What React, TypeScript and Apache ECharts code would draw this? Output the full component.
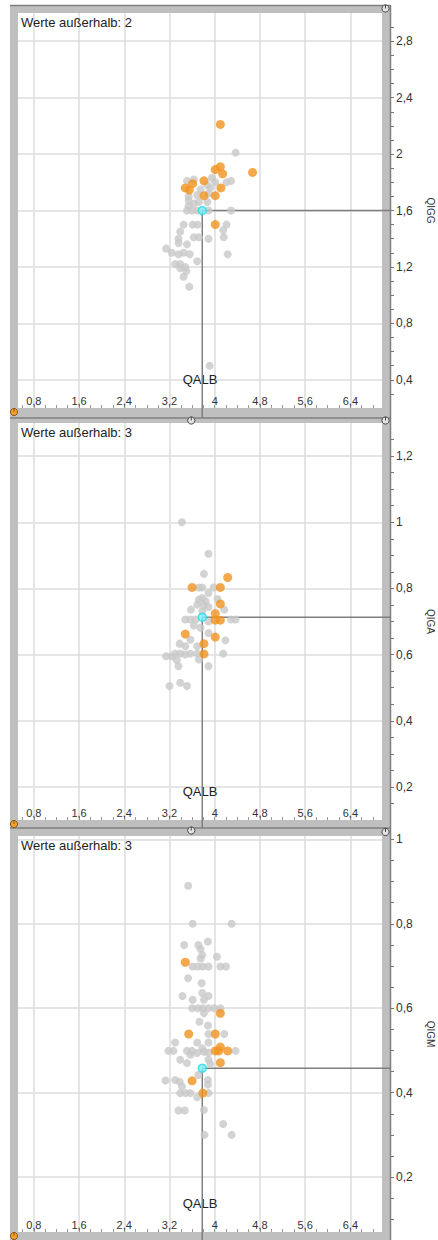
import React, { useEffect, useRef } from 'react';
import * as echarts from 'echarts';

// ---------- data ----------
const X_MIN = 0.52;
const X_MAX = 6.96;
const xLabelTicks = [0.8, 1.6, 2.4, 3.2, 4, 4.8, 5.6, 6.4];
const xMinorTicks = [0.6, 0.8, 1.0, 1.2, 1.4, 1.6, 1.8, 2.0, 2.2, 2.4, 2.6, 2.8, 3.0, 3.2, 3.4, 3.6, 3.8, 4.0, 4.2, 4.4, 4.6, 4.8, 5.0, 5.2, 5.4, 5.6, 5.8, 6.0, 6.2, 6.4, 6.6, 6.8];

const yNames = ['QIGG', 'QIGA', 'QIGM'];
const xName = 'QALB';
const outsideTexts = ['Werte außerhalb: 2', 'Werte außerhalb: 3', 'Werte außerhalb: 3'];

const yMin = [0.2, 0.1, 0.07];
const yMax = [3.0, 1.3, 1.008];
const yLabelTicks1 = [0.4, 0.8, 1.2, 1.6, 2, 2.4, 2.8];
const yLabelTicks2 = [0.2, 0.4, 0.6, 0.8, 1, 1.2];
const yLabelTicks3 = [0.2, 0.4, 0.6, 0.8, 1];
const yMinorTicks1 = [0.3, 0.4, 0.5, 0.6, 0.7, 0.8, 0.9, 1.0, 1.1, 1.2, 1.3, 1.4, 1.5, 1.6, 1.7, 1.8, 1.9, 2.0, 2.1, 2.2, 2.3, 2.4, 2.5, 2.6, 2.7, 2.8, 2.9];
const yMinorTicks2 = [0.15, 0.2, 0.25, 0.3, 0.35, 0.4, 0.45, 0.5, 0.55, 0.6, 0.65, 0.7, 0.75, 0.8, 0.85, 0.9, 0.95, 1.0, 1.05, 1.1, 1.15, 1.2, 1.25];
const yMinorTicks3 = [0.1, 0.15, 0.2, 0.25, 0.3, 0.35, 0.4, 0.45, 0.5, 0.55, 0.6, 0.65, 0.7, 0.75, 0.8, 0.85, 0.9, 0.95, 1.0];

// QALB / QIGG
const grayQigg = [
  [4.37, 2.01], [4.29, 1.81], [4.21, 1.80], [3.95, 1.83], [3.51, 1.81], [3.63, 1.82], [3.87, 1.78], [4.01, 1.80],
  [3.92, 1.76], [3.75, 1.75], [3.54, 1.70], [3.69, 1.71], [3.89, 1.72], [3.54, 1.67], [3.63, 1.65], [3.72, 1.66],
  [3.87, 1.66], [3.54, 1.63], [3.51, 1.60], [3.60, 1.60], [3.69, 1.60], [3.89, 1.60], [4.29, 1.60], [3.45, 1.50],
  [3.61, 1.50], [3.70, 1.50], [4.21, 1.50], [3.39, 1.45], [3.63, 1.41], [3.72, 1.41], [3.36, 1.40], [3.89, 1.40],
  [4.16, 1.41], [4.15, 1.46], [3.36, 1.37], [3.51, 1.36], [3.14, 1.33], [3.24, 1.30], [3.36, 1.29], [3.45, 1.30],
  [3.56, 1.29], [3.69, 1.24], [4.23, 1.29], [3.30, 1.22], [3.39, 1.22], [3.48, 1.20], [3.39, 1.19], [3.50, 1.17],
  [3.45, 1.13], [3.55, 1.06], [3.91, 0.50],
];
const orangeQigg = [
  [4.10, 2.21], [4.67, 1.87], [4.10, 1.91], [4.01, 1.89], [4.14, 1.86], [3.61, 1.79], [3.81, 1.81], [3.48, 1.76],
  [3.55, 1.745], [4.11, 1.76], [3.81, 1.705], [4.01, 1.705], [4.01, 1.50],
];
const cyanQigg = [3.78, 1.6];

// QALB / QIGA
const grayQiga = [
  [3.42, 1.00], [3.89, 0.905], [3.81, 0.844], [3.78, 0.803], [3.72, 0.803], [3.98, 0.803], [3.89, 0.786], [3.78, 0.771],
  [3.72, 0.766], [3.84, 0.761], [4.05, 0.768], [3.69, 0.751], [3.81, 0.748], [3.89, 0.744], [3.58, 0.736], [4.17, 0.736],
  [3.78, 0.731], [3.48, 0.706], [3.57, 0.706], [3.66, 0.706], [3.89, 0.70], [4.29, 0.706], [4.37, 0.706], [3.63, 0.688],
  [3.75, 0.681], [3.89, 0.665], [3.57, 0.645], [4.19, 0.643], [3.38, 0.633], [3.48, 0.625], [3.69, 0.625], [3.30, 0.603],
  [3.39, 0.603], [3.48, 0.60], [3.57, 0.603], [3.69, 0.603], [3.14, 0.595], [3.24, 0.595], [4.15, 0.603], [3.33, 0.583],
  [3.72, 0.585], [3.36, 0.565], [3.89, 0.565], [3.20, 0.505], [3.39, 0.515], [3.51, 0.505],
];
const orangeQiga = [
  [4.23, 0.833], [3.60, 0.803], [4.10, 0.803], [4.10, 0.753], [4.01, 0.724], [4.01, 0.704], [4.10, 0.704], [3.48, 0.662],
  [4.01, 0.653], [3.81, 0.633], [3.81, 0.602],
];
const cyanQiga = [3.78, 0.713];

// QALB / QIGM
const grayQigm = [
  [3.53, 0.89], [3.61, 0.80], [4.30, 0.80], [3.46, 0.75], [3.71, 0.75], [3.88, 0.758], [3.75, 0.74], [3.78, 0.726],
  [4.04, 0.722], [3.75, 0.718], [3.61, 0.699], [3.70, 0.699], [3.79, 0.699], [3.89, 0.699], [4.10, 0.699], [4.20, 0.699],
  [3.53, 0.671], [3.77, 0.659], [3.43, 0.629], [3.78, 0.636], [3.89, 0.629], [3.61, 0.62], [3.81, 0.62], [3.60, 0.60],
  [3.70, 0.60], [3.79, 0.60], [3.89, 0.60], [3.99, 0.60], [4.10, 0.60], [3.81, 0.588], [3.73, 0.568], [3.88, 0.559],
  [3.89, 0.539], [4.17, 0.539], [3.30, 0.519], [3.69, 0.519], [3.89, 0.519], [3.18, 0.499], [3.27, 0.499], [3.51, 0.499],
  [3.60, 0.499], [3.69, 0.494], [3.78, 0.505], [3.81, 0.497], [3.89, 0.495], [4.37, 0.499], [3.57, 0.49], [3.39, 0.478],
  [3.51, 0.47], [3.89, 0.478], [3.92, 0.468], [3.13, 0.429], [3.30, 0.43], [3.38, 0.426], [3.71, 0.442], [3.88, 0.43],
  [3.88, 0.419], [3.42, 0.415], [3.39, 0.399], [3.48, 0.399], [3.57, 0.399], [3.69, 0.389], [3.89, 0.399], [3.36, 0.358],
  [3.47, 0.358], [3.81, 0.359], [4.15, 0.326], [3.82, 0.30], [4.30, 0.30],
];
const orangeQigm = [
  [3.48, 0.709], [4.10, 0.588], [3.54, 0.539], [4.01, 0.539], [4.10, 0.508], [4.01, 0.499], [4.07, 0.499], [4.23, 0.499],
  [4.10, 0.471], [3.60, 0.428], [3.79, 0.399],
];
const cyanQigm = [3.78, 0.458];

const grayData = [grayQigg, grayQiga, grayQigm];
const orangeData = [orangeQigg, orangeQiga, orangeQigm];
const cyanData = [cyanQigg, cyanQiga, cyanQigm];
const yLabelTicks = [yLabelTicks1, yLabelTicks2, yLabelTicks3];
const yMinorTicks = [yMinorTicks1, yMinorTicks2, yMinorTicks3];

// ---------- layout ----------
const FONT = 'Liberation Sans, Arial, sans-serif';
const LEFT = 18;
const WIDTH = 364;
const PANELS = [
  { top: 13, height: 395, frameBottom: 418 },
  { top: 423, height: 397, frameBottom: 828 },
  { top: 836, height: 396, frameBottom: 1240 },
];
const BAR = '#bfbfbf';
const DARK = '#7f7f7f';
const GRIDLINE = '#dcdcdc';

const fmt = (v: number) => String(+Number(v).toFixed(2)).replace('.', ',');

function buildOption() {
  const grid: any[] = [];
  const xAxis: any[] = [];
  const yAxis: any[] = [];
  const series: any[] = [];
  const title: any[] = [];
  PANELS.forEach((p, i) => {
    grid.push({ left: LEFT, width: WIDTH, top: p.top, height: p.height, containLabel: false, outerBoundsMode: 'none' });
    title.push({
      text: outsideTexts[i], left: LEFT + 3, top: p.top + 3, padding: 0,
      textStyle: { fontSize: 13, fontWeight: 'normal', color: '#222', fontFamily: FONT },
    });
    xAxis.push({
      gridIndex: i, type: 'value', min: X_MIN, max: X_MAX, position: 'bottom',
      axisLine: { show: false },
      axisTick: { show: false, customValues: xLabelTicks },
      axisLabel: { inside: true, margin: 2, customValues: xLabelTicks, formatter: fmt, color: '#333', fontSize: 11, fontFamily: FONT },
      splitLine: { show: true, lineStyle: { color: GRIDLINE, width: 1.5 } },
      name: xName, nameLocation: 'middle', nameGap: -29,
      nameTextStyle: { color: '#222', fontSize: 13, fontFamily: FONT, verticalAlign: 'middle' },
    });
    xAxis.push({
      gridIndex: i, type: 'value', min: X_MIN, max: X_MAX, position: 'bottom',
      axisLine: { show: false },
      axisTick: { show: true, inside: true, length: 3, customValues: xMinorTicks, lineStyle: { color: '#999', width: 1 } },
      axisLabel: { show: false },
      splitLine: { show: false },
    });
    yAxis.push({
      gridIndex: i, type: 'value', min: yMin[i], max: yMax[i], position: 'right', offset: 8,
      axisLine: { show: false },
      axisTick: { show: false, customValues: yLabelTicks[i] },
      axisLabel: { margin: 6, customValues: yLabelTicks[i], formatter: fmt, color: '#333', fontSize: 12, fontFamily: FONT },
      splitLine: { show: true, lineStyle: { color: GRIDLINE, width: 1.5 } },
      name: yNames[i], nameLocation: 'middle', nameGap: 40, nameRotate: -90,
      nameTextStyle: { color: '#333', fontSize: 10, fontFamily: FONT, verticalAlign: 'middle', align: 'center' },
    });
    yAxis.push({
      gridIndex: i, type: 'value', min: yMin[i], max: yMax[i], position: 'right', offset: 8,
      axisLine: { show: false },
      axisTick: { show: true, inside: false, length: 4, customValues: yMinorTicks[i], lineStyle: { color: '#777', width: 1 } },
      axisLabel: { show: false },
      splitLine: { show: false },
    });
    const xi = i * 2;
    const yi = i * 2;
    series.push({
      type: 'scatter', xAxisIndex: xi, yAxisIndex: yi, data: grayData[i], symbolSize: 8,
      itemStyle: { color: '#c8c8c8' }, z: 2,
    });
    series.push({
      type: 'scatter', xAxisIndex: xi, yAxisIndex: yi, data: orangeData[i], symbolSize: 9,
      itemStyle: { color: '#f1921f' }, z: 3,
    });
    series.push({
      type: 'scatter', xAxisIndex: xi, yAxisIndex: yi, data: [cyanData[i]], symbolSize: 8,
      itemStyle: { color: '#7eeef6', borderColor: '#2ad8e8', borderWidth: 1.5 }, z: 4,
    });
  });
  return { animation: false, backgroundColor: '#fff', grid, xAxis, yAxis, series, title };
}

function handle(cx: number, cy: number, fill: string, stroke: string) {
  return [
    { type: 'circle', z: 10, shape: { cx, cy, r: 3.6 }, style: { fill, stroke, lineWidth: 1 } },
    { type: 'line', z: 10, shape: { x1: cx, y1: cy - 3.6, x2: cx, y2: cy }, style: { stroke, lineWidth: 1 } },
  ];
}

function buildGraphic(cross: number[][]) {
  const g: any[] = [];
  // frame bars
  g.push({ type: 'rect', z: 0, shape: { x: 10, y: 5, width: 8, height: 1235 }, style: { fill: BAR } });
  g.push({ type: 'rect', z: 0, shape: { x: 382, y: 5, width: 8, height: 1235 }, style: { fill: BAR } });
  g.push({ type: 'rect', z: 0, shape: { x: 10, y: 5, width: 380, height: 8 }, style: { fill: BAR } });
  g.push({ type: 'rect', z: 0, shape: { x: 10, y: 408, width: 380, height: 15 }, style: { fill: BAR } });
  g.push({ type: 'rect', z: 0, shape: { x: 10, y: 820, width: 380, height: 16 }, style: { fill: BAR } });
  g.push({ type: 'rect', z: 0, shape: { x: 10, y: 1232, width: 380, height: 8 }, style: { fill: BAR } });
  // dark lines
  g.push({ type: 'line', z: 1, shape: { x1: 10, y1: 5.5, x2: 390, y2: 5.5 }, style: { stroke: DARK, lineWidth: 1.5 } });
  g.push({ type: 'line', z: 1, shape: { x1: 10, y1: 418, x2: 390, y2: 418 }, style: { stroke: DARK, lineWidth: 1.5 } });
  g.push({ type: 'line', z: 1, shape: { x1: 10, y1: 828, x2: 390, y2: 828 }, style: { stroke: DARK, lineWidth: 1.5 } });
  g.push({ type: 'line', z: 1, shape: { x1: 390.5, y1: 5, x2: 390.5, y2: 1240 }, style: { stroke: DARK, lineWidth: 1.5 } });
  // crosshair
  cross.forEach((p, i) => {
    g.push({ type: 'line', z: 1, shape: { x1: p[0], y1: p[1], x2: p[0], y2: PANELS[i].frameBottom }, style: { stroke: DARK, lineWidth: 1.5 } });
    g.push({ type: 'line', z: 1, shape: { x1: p[0], y1: p[1], x2: 390, y2: p[1] }, style: { stroke: DARK, lineWidth: 1.5 } });
  });
  // handles
  [412, 824, 1236].forEach((y) => g.push(...handle(14, y, '#f0a030', '#8a5a10')));
  [8.5, 420.5, 832].forEach((y) => g.push(...handle(385.5, y, '#e4e4e4', '#444')));
  cross.forEach((p, i) => {
    if (i < 2) g.push(...handle(p[0] - 11, PANELS[i].frameBottom + 2.5, '#e4e4e4', '#444'));
  });
  return g;
}

export default function App() {
  const ref = useRef<HTMLDivElement>(null);
  useEffect(() => {
    if (!ref.current) return;
    const chart = echarts.init(ref.current, null, { renderer: 'svg' });
    chart.setOption(buildOption());
    const cross = cyanData.map((c, i) => chart.convertToPixel({ seriesIndex: i * 3 + 2 }, c) as number[]);
    chart.setOption({ graphic: buildGraphic(cross) });
    return () => chart.dispose();
  }, []);
  return (
    <div
      ref={ref}
      style={{ position: 'absolute', left: 0, top: 0, width: 438, height: 1240, background: '#fff' }}
    />
  );
}
